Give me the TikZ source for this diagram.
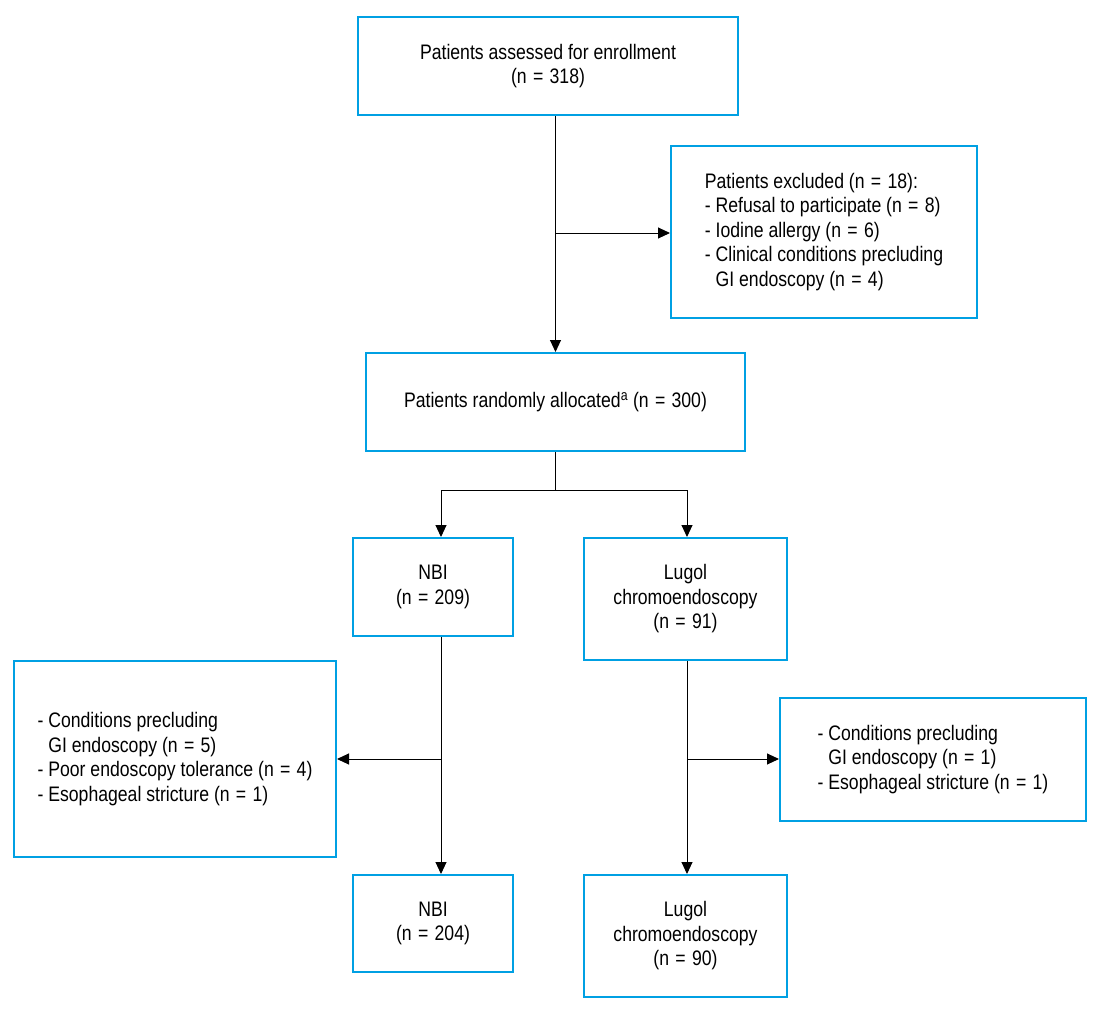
\documentclass[tikz,border=0pt]{standalone}
\usepackage{fontspec}
\setmainfont{Liberation Sans}[FakeStretch=0.84]
\usetikzlibrary{arrows.meta}
\definecolor{boxblue}{RGB}{0,160,227}
\newcommand{\myeq}{\hspace{0.3em}=\hspace{0.3em}}
\begin{document}
\begin{tikzpicture}[x=1pt,y=-1pt,
  box/.style={draw=boxblue,line width=2pt,align=center,inner sep=0pt,font=\fontsize{21}{24.5}\selectfont},
  lbox/.style={box,align=left},
  conn/.style={line width=1pt},
  arr/.style={conn,-{Triangle[length=12pt,width=11pt]}}]
\useasboundingbox (0,0) rectangle (1104,1018);
\node[box,minimum width=380pt,minimum height=98pt] (enroll) at (548,66) {Patients assessed for enrollment\\(n\myeq 318)};
\node[lbox,minimum width=306pt,minimum height=172pt] (excl) at (824,232) {Patients excluded (n\myeq 18):\\- Refusal to participate (n\myeq 8)\\- Iodine allergy (n\myeq 6)\\- Clinical conditions precluding\\\phantom{- }GI endoscopy (n\myeq 4)};
\node[box,minimum width=379pt,minimum height=98pt] (rand) at (555.5,402) {Patients randomly allocated\textsuperscript{a} (n\myeq 300)};
\node[box,minimum width=160pt,minimum height=98pt] (nbi1) at (433,587) {NBI\\(n\myeq 209)};
\node[box,minimum width=203pt,minimum height=122pt] (lug1) at (685.5,599) {Lugol\\chromoendoscopy\\(n\myeq 91)};
\node[lbox,minimum width=322pt,minimum height=196pt] (lex) at (175,759) {- Conditions precluding\\\phantom{- }GI endoscopy (n\myeq 5)\\- Poor endoscopy tolerance (n\myeq 4)\\- Esophageal stricture (n\myeq 1)};
\node[lbox,minimum width=306pt,minimum height=123pt] (rex) at (933,759.5) {- Conditions precluding\\\phantom{- }GI endoscopy (n\myeq 1)\\- Esophageal stricture (n\myeq 1)};
\node[box,minimum width=160pt,minimum height=97pt] (nbi2) at (433,923.5) {NBI\\(n\myeq 204)};
\node[box,minimum width=203pt,minimum height=122pt] (lug2) at (685.5,936) {Lugol\\chromoendoscopy\\(n\myeq 90)};
% connectors
\draw[arr] (rand.north |- enroll.south) -- (rand.north);
\coordinate (b1) at (555.5,233);
\draw[arr] (b1) -- (b1 -| excl.west);
\coordinate (split) at (555.5,490);
\coordinate (nbix) at (441,490);
\coordinate (lugx) at (687,490);
\draw[conn] (rand.south) -- (split);
\draw[conn] (nbix) -- (lugx);
\draw[arr] (nbix) -- (nbix |- nbi1.north);
\draw[arr] (lugx) -- (lugx |- lug1.north);
\draw[arr] (nbix |- nbi1.south) -- (nbix |- nbi2.north);
\coordinate (b2) at (441,759);
\draw[arr] (b2) -- (b2 -| lex.east);
\draw[arr] (lugx |- lug1.south) -- (lugx |- lug2.north);
\coordinate (b3) at (687,759);
\draw[arr] (b3) -- (b3 -| rex.west);
\end{tikzpicture}
\end{document}
